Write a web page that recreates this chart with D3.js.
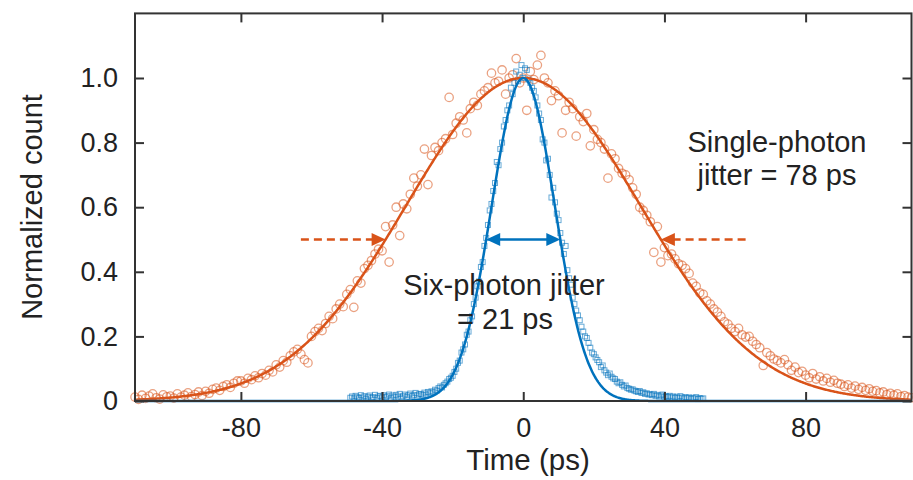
<!DOCTYPE html>
<html>
<head>
<meta charset="utf-8">
<script src="https://cdn.jsdelivr.net/npm/d3@7"></script>
<style>
  body { margin: 0; background: #fff; }
  svg { display: block; font-family: "Liberation Sans", Arial, sans-serif; }
  .axis text { font-size: 27px; fill: #222; }
  .axis line { stroke: #333; stroke-width: 2; }
</style>
</head>
<body>
<svg></svg>
<script>
const width = 913;
const height = 480;

// fit widths (FWHM, ps)
const singleFwhm = 78;
const sixFwhm = 21;

const xTicks = [-80, -40, 0, 40, 80];
const yTicks = [0, 0.2, 0.4, 0.6, 0.8, 1.0];

// single-photon histogram, t = -110 .. 110 ps, 1 ps step
const singleStart = -110, singleStep = 1;
const singleCounts = [
  0.012, 0.005, 0.018, 0.008, 0.015, 0.022, 0.010, 0.006, 0.019, 0.013,
  0.015, 0.009, 0.022, 0.012, 0.018, 0.025, 0.014, 0.020, 0.028, 0.017,
  0.030, 0.024, 0.036, 0.040, 0.033, 0.045, 0.050, 0.042, 0.055, 0.062,
  0.062, 0.055, 0.070, 0.066, 0.078, 0.072, 0.085, 0.080, 0.095, 0.090,
  0.112, 0.105, 0.125, 0.120, 0.140, 0.152, 0.160, 0.145, 0.128, 0.118,
  0.200, 0.215, 0.225, 0.218, 0.240, 0.262, 0.255, 0.285, 0.300, 0.292,
  0.330, 0.345, 0.290, 0.372, 0.365, 0.410, 0.420, 0.435, 0.455, 0.470,
  0.465, 0.540, 0.430, 0.545, 0.600, 0.512, 0.610, 0.595, 0.640, 0.690,
  0.665, 0.700, 0.780, 0.670, 0.760, 0.785, 0.775, 0.800, 0.812, 0.940,
  0.825, 0.860, 0.880, 0.870, 0.830, 0.905, 0.925, 0.915, 0.950, 0.960,
  0.970, 1.015, 0.985, 0.990, 1.025, 0.950, 1.000, 1.010, 1.060, 0.985,
  1.000, 0.900, 1.020, 0.995, 1.040, 1.070, 1.000, 0.985, 0.930, 0.960,
  0.945, 0.830, 0.900, 0.925, 0.905, 0.820, 0.880, 0.865, 0.890, 0.790,
  0.840, 0.810, 0.800, 0.780, 0.690, 0.765, 0.750, 0.720, 0.705, 0.700,
  0.685, 0.660, 0.640, 0.600, 0.590, 0.575, 0.555, 0.460, 0.540, 0.430,
  0.475, 0.450, 0.455, 0.440, 0.425, 0.420, 0.410, 0.395, 0.365, 0.355,
  0.335, 0.330, 0.310, 0.300, 0.285, 0.275, 0.262, 0.245, 0.238, 0.225,
  0.215, 0.225, 0.205, 0.198, 0.200, 0.185, 0.175, 0.165, 0.110, 0.150,
  0.140, 0.130, 0.125, 0.118, 0.128, 0.112, 0.095, 0.105, 0.088, 0.092,
  0.080, 0.072, 0.085, 0.068, 0.075, 0.062, 0.070, 0.058, 0.064, 0.055,
  0.052, 0.045, 0.050, 0.040, 0.046, 0.036, 0.042, 0.033, 0.038, 0.030,
  0.032, 0.025, 0.028, 0.020, 0.024, 0.018, 0.022, 0.014, 0.017, 0.012, 0.010
];

// six-photon histogram, t = -49 .. 51 ps, 0.5 ps step
const sixStart = -49, sixStep = 0.5;
const sixCounts = [
  0.010, 0.014, 0.008, 0.016, 0.012, 0.009, 0.018, 0.011, 0.015, 0.007,
  0.013, 0.017, 0.010, 0.012, 0.019, 0.009, 0.014, 0.016, 0.011, 0.018,
  0.012, 0.015, 0.020, 0.010, 0.017, 0.013, 0.019, 0.014, 0.022, 0.011,
  0.016, 0.020, 0.013, 0.018, 0.023, 0.015, 0.019, 0.025, 0.017, 0.021,
  0.022, 0.018, 0.026, 0.020, 0.028, 0.024, 0.030, 0.027, 0.035, 0.032,
  0.040, 0.045, 0.042, 0.050, 0.055, 0.060, 0.068, 0.072, 0.078, 0.090,
  0.100, 0.118, 0.125, 0.150, 0.160, 0.175, 0.205, 0.215, 0.250, 0.262,
  0.300, 0.320, 0.355, 0.370, 0.415, 0.430, 0.480, 0.505, 0.545, 0.590,
  0.610, 0.650, 0.675, 0.740, 0.730, 0.780, 0.800, 0.850, 0.870, 0.900,
  0.915, 0.970, 0.950, 0.985, 1.020, 0.990, 1.010, 1.040, 1.000, 1.030,
  1.025, 0.995, 0.985, 0.970, 0.960, 0.940, 0.915, 0.890, 0.870, 0.810,
  0.800, 0.745, 0.750, 0.700, 0.630, 0.660, 0.615, 0.580, 0.560, 0.520,
  0.490, 0.455, 0.480, 0.405, 0.380, 0.360, 0.320, 0.300, 0.280, 0.265,
  0.250, 0.230, 0.215, 0.200, 0.195, 0.180, 0.165, 0.150, 0.145, 0.135,
  0.127, 0.120, 0.105, 0.110, 0.095, 0.088, 0.080, 0.085, 0.075, 0.070,
  0.068, 0.060, 0.055, 0.058, 0.050, 0.045, 0.048, 0.040, 0.038, 0.035,
  0.036, 0.032, 0.030, 0.028, 0.031, 0.025, 0.027, 0.022, 0.024, 0.020,
  0.021, 0.018, 0.022, 0.016, 0.019, 0.014, 0.017, 0.020, 0.013, 0.015,
  0.012, 0.016, 0.011, 0.014, 0.010, 0.013, 0.009, 0.015, 0.011, 0.008,
  0.012, 0.009, 0.011, 0.007, 0.010, 0.008, 0.012, 0.006, 0.009, 0.007,
  0.008
];

const orange = "#D95319";
const blue = "#0072BD";

const svg = d3.select("svg")
  .attr("width", width)
  .attr("height", height);

const x = d3.scaleLinear().domain([-110, 110]).range([135, 911.5]);
const y = d3.scaleLinear().domain([0, 1.2]).range([401, 13.4]);

const singlePts = singleCounts.map((v, i) => ({ t: singleStart + i * singleStep, v }));
const sixPts = sixCounts.map((v, i) => ({ t: sixStart + i * sixStep, v }));

// gaussian fit, normalized to 1 at t = 0
const gauss = fwhm => t => Math.exp(-4 * Math.LN2 * t * t / (fwhm * fwhm));
const fitTimes = d3.range(-110, 110.01, 0.25);

const plot = svg.append("g");

// markers
plot.selectAll("circle.single")
  .data(singlePts)
  .enter()
  .append("circle")
  .attr("class", "single")
  .attr("cx", d => x(d.t))
  .attr("cy", d => y(d.v))
  .attr("r", 4.2)
  .attr("fill", "none")
  .attr("stroke", orange)
  .attr("stroke-opacity", 0.55)
  .attr("stroke-width", 1.3);

plot.selectAll("rect.six")
  .data(sixPts)
  .enter()
  .append("rect")
  .attr("class", "six")
  .attr("x", d => x(d.t) - 2.5)
  .attr("y", d => y(d.v) - 2.5)
  .attr("width", 5)
  .attr("height", 5)
  .attr("fill", "none")
  .attr("stroke", blue)
  .attr("stroke-opacity", 0.6)
  .attr("stroke-width", 1);

// fit lines
const line = f => d3.line()
  .x(t => x(t))
  .y(t => y(f(t)))(fitTimes);

plot.append("path")
  .attr("d", line(gauss(singleFwhm)))
  .attr("fill", "none")
  .attr("stroke", orange)
  .attr("stroke-width", 2.5);

plot.append("path")
  .attr("d", line(gauss(sixFwhm)))
  .attr("fill", "none")
  .attr("stroke", blue)
  .attr("stroke-width", 2.5);

// arrows at half maximum
function head(tipX, tipY, dir, color) {
  const len = 14, half = 6.5;
  svg.append("path")
    .attr("d", `M${tipX},${tipY} L${tipX - dir * len},${tipY - half} L${tipX - dir * len},${tipY + half} Z`)
    .attr("fill", color);
}

const hy = y(0.5);
const sHalf = singleFwhm / 2;
[[-1, -63], [1, 63]].forEach(([side, from]) => {
  const tip = x(side * sHalf);
  const start = x(from);
  const dir = side < 0 ? 1 : -1;
  svg.append("line")
    .attr("x1", start).attr("x2", tip - dir * 12)
    .attr("y1", hy).attr("y2", hy)
    .attr("stroke", orange)
    .attr("stroke-width", 2.5)
    .attr("stroke-dasharray", "8,5");
  head(tip, hy, dir, orange);
});

const bHalf = sixFwhm / 2;
svg.append("line")
  .attr("x1", x(-bHalf) + 10).attr("x2", x(bHalf) - 10)
  .attr("y1", hy).attr("y2", hy)
  .attr("stroke", blue)
  .attr("stroke-width", 2.5);
head(x(-bHalf), hy, -1, blue);
head(x(bHalf), hy, 1, blue);

// axes
const [x0, x1] = x.range();
const [y0, y1] = y.range();

svg.append("g")
  .attr("class", "axis")
  .attr("transform", `translate(0,${y0})`)
  .call(d3.axisBottom(x).tickValues(xTicks).tickSizeInner(-9).tickSizeOuter(0).tickPadding(17)
    .tickFormat(d => String(d)))
  .call(g => g.select(".domain").remove());

svg.append("g")
  .attr("class", "axis")
  .attr("transform", `translate(0,${y1})`)
  .call(d3.axisTop(x).tickValues(xTicks).tickSizeInner(-9).tickSizeOuter(0).tickFormat(""))
  .call(g => g.select(".domain").remove());

svg.append("g")
  .attr("class", "axis")
  .attr("transform", `translate(${x0},0)`)
  .call(d3.axisLeft(y).tickValues(yTicks).tickSizeInner(-9).tickSizeOuter(0).tickPadding(17)
    .tickFormat(d => d === 0 ? "0" : d3.format(".1f")(d)))
  .call(g => g.select(".domain").remove());

svg.append("g")
  .attr("class", "axis")
  .attr("transform", `translate(${x1},0)`)
  .call(d3.axisRight(y).tickValues(yTicks).tickSizeInner(-9).tickSizeOuter(0).tickFormat(""))
  .call(g => g.select(".domain").remove());

svg.append("rect")
  .attr("x", x0).attr("y", y1)
  .attr("width", x1 - x0).attr("height", y0 - y1)
  .attr("fill", "none")
  .attr("stroke", "#333")
  .attr("stroke-width", 2);

// labels
svg.append("text")
  .attr("x", 528).attr("y", 470)
  .attr("text-anchor", "middle")
  .attr("font-size", 29.5).attr("fill", "#222")
  .text("Time (ps)");

svg.append("text")
  .attr("transform", "translate(42,207) rotate(-90)")
  .attr("text-anchor", "middle")
  .attr("font-size", 29).attr("fill", "#222")
  .text("Normalized count");

const notes = [
  { text: "Six-photon jitter", cx: 504, by: 295 },
  { text: "= 21 ps", cx: 505, by: 329 },
  { text: "Single-photon", cx: 777, by: 152 },
  { text: "jitter = 78 ps", cx: 777, by: 185 }
];

svg.selectAll("text.note")
  .data(notes)
  .enter()
  .append("text")
  .attr("class", "note")
  .attr("x", d => d.cx)
  .attr("y", d => d.by)
  .attr("text-anchor", "middle")
  .attr("font-size", 29)
  .attr("fill", "#222")
  .text(d => d.text);
</script>
</body>
</html>
